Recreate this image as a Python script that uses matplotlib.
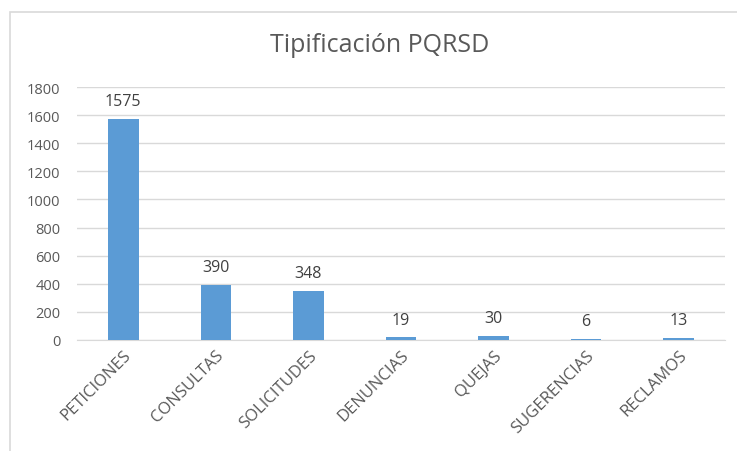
import matplotlib.pyplot as plt
from matplotlib.patches import Rectangle

CATEGORIES = ["PETICIONES", "CONSULTAS", "SOLICITUDES", "DENUNCIAS",
              "QUEJAS", "SUGERENCIAS", "RECLAMOS"]
VALUES = [1575, 390, 348, 19, 30, 6, 13]
Y_TICKS = [0, 200, 400, 600, 800, 1000, 1200, 1400, 1600, 1800]

BAR_COLOR = "#5B9BD5"
GRID_COLOR = "#D9D9D9"
TEXT_COLOR = "#595959"

W, H = 737, 452
plt.rcParams["font.family"] = ["Open Sans", "DejaVu Sans"]

fig = plt.figure(figsize=(W / 100, H / 100), dpi=100)
ax = fig.add_axes([77 / W, 1 - 341 / H, 648 / W, (341 - 88) / H])

# chart frame (partly cropped in the reference)
fig.patches.append(Rectangle((10 / W, -0.1), 1.2, 1.1 - 13 / H,
                             transform=fig.transFigure, fill=False,
                             edgecolor=GRID_COLOR, linewidth=1.2))

x = range(len(CATEGORIES))
bars = ax.bar(x, VALUES, width=0.33, color=BAR_COLOR, zorder=3)
for b, v in zip(bars, VALUES):
    ax.annotate(str(v), (b.get_x() + b.get_width() / 2, v),
                xytext=(0, 7), textcoords="offset points",
                ha="center", va="bottom", fontsize=11.5, color="#404040")

ax.set_xlim(-0.5, len(CATEGORIES) - 0.5)
ax.set_ylim(0, 1800)
ax.set_yticks(Y_TICKS)
ax.set_xticks(list(x))
ax.set_xticklabels(CATEGORIES, rotation=45, ha="right",
                   rotation_mode="anchor", fontsize=12, color=TEXT_COLOR)
ax.tick_params(axis="y", labelsize=10.5, labelcolor=TEXT_COLOR, length=0, pad=12)
ax.tick_params(axis="x", length=0, pad=5)
ax.grid(axis="y", color=GRID_COLOR, linewidth=1, zorder=0)
for s in ["top", "right", "left"]:
    ax.spines[s].set_visible(False)
ax.spines["bottom"].set_color(GRID_COLOR)

fig.text(380 / W, 1 - 45 / H, "Tipificación PQRSD", ha="center", va="center",
         fontsize=18, color=TEXT_COLOR)

fig.savefig("out.png", dpi=100)
